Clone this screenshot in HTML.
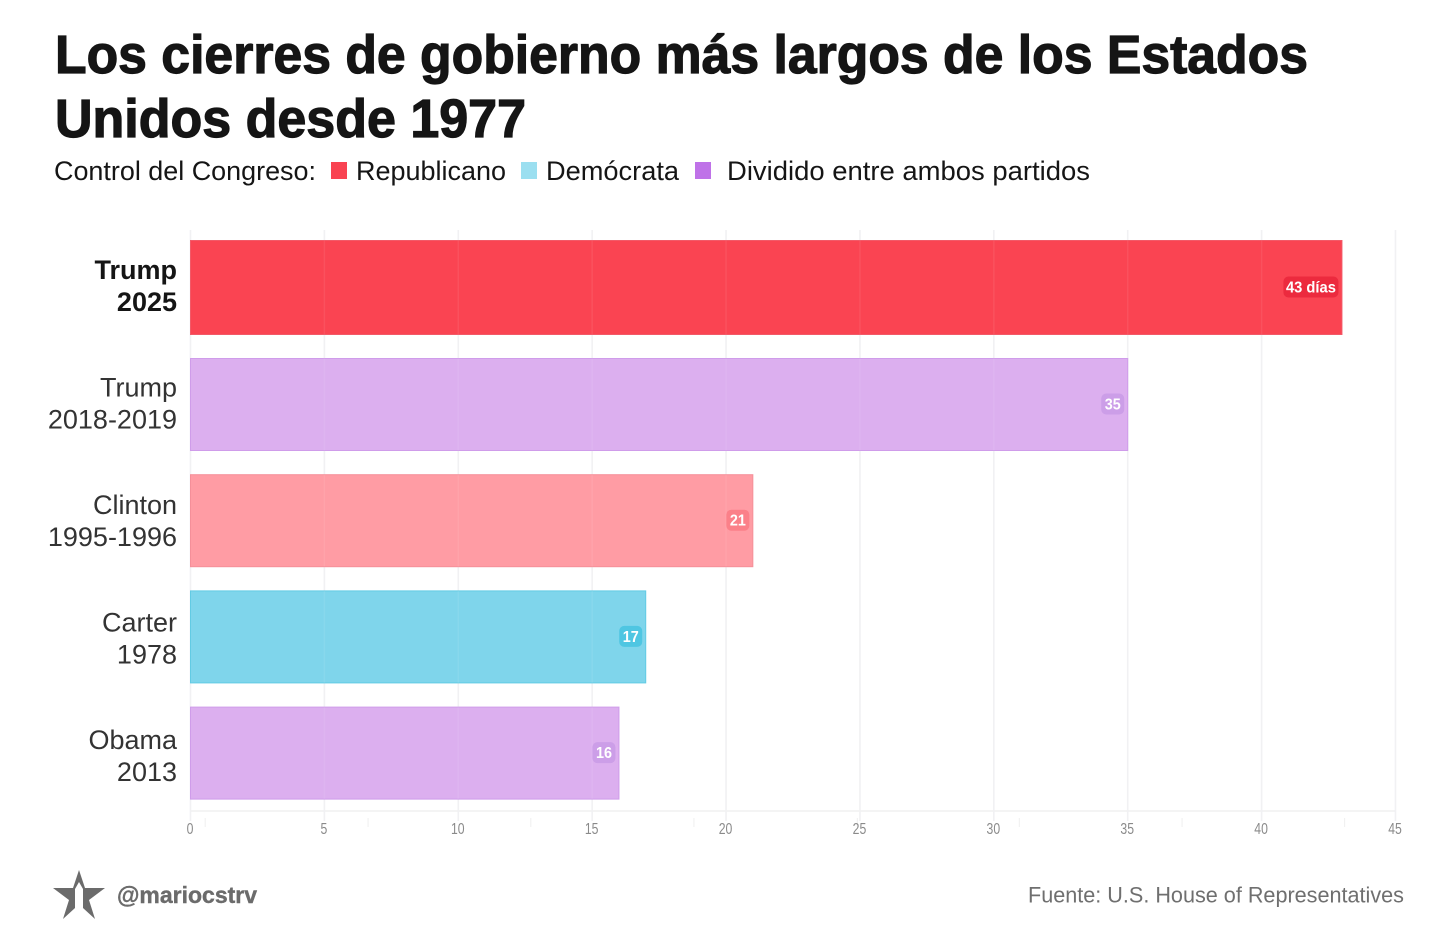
<!DOCTYPE html>
<html lang="es">
<head>
<meta charset="utf-8">
<title>Los cierres de gobierno más largos</title>
<style>
html,body{margin:0;padding:0;background:#fff;width:1456px;height:948px;overflow:hidden}
svg{display:block;font-family:"Liberation Sans",sans-serif}
</style>
</head>
<body>
<svg id="chart" width="1456" height="948" viewBox="0 0 1456 948">
  <rect width="1456" height="948" fill="#fff"/>
  <g font-weight="700" font-size="54" fill="#151515" stroke="#151515" stroke-width="1.2">
    <text x="55" y="73" textLength="1253" lengthAdjust="spacingAndGlyphs">Los cierres de gobierno más largos de los Estados</text>
    <text x="55" y="137" textLength="471" lengthAdjust="spacingAndGlyphs">Unidos desde 1977</text>
  </g>
  <g font-size="27" fill="#151515">
    <text x="54" y="180" textLength="262" lengthAdjust="spacingAndGlyphs">Control del Congreso:</text>
    <rect x="331" y="162" width="16" height="17" fill="#f94352"/>
    <text x="356" y="180" textLength="150" lengthAdjust="spacingAndGlyphs">Republicano</text>
    <rect x="521" y="162" width="16" height="17" fill="#9bdff0"/>
    <text x="546" y="180" textLength="133" lengthAdjust="spacingAndGlyphs">Demócrata</text>
    <rect x="695" y="162" width="16" height="17" fill="#bf72e8"/>
    <text x="727" y="180" textLength="363" lengthAdjust="spacingAndGlyphs">Dividido entre ambos partidos</text>
  </g>
  <g id="minor-ticks"></g>
  <g id="grid-under"></g>
  <g id="bars"></g>
  <g id="grid-over"></g>
  <g id="values"></g>
  <g id="cats"></g>
  <g id="xticks"></g>
  <g>
    <path d="M79 870 L85 888 L105 888 L89 900 L95 919 L83 908 L83 889 L79 882 L75 889 L75 908 L63 919 L69 900 L53 888 L73 888 Z" fill="#6b6b6b"/>
    <text x="117" y="903" font-size="23" font-weight="700" fill="#6b6b6b" stroke="#6b6b6b" stroke-width=".4" textLength="140" lengthAdjust="spacingAndGlyphs">@mariocstrv</text>
    <text x="1404" y="902.5" font-size="22" fill="#6f6f6f" text-anchor="end" textLength="376" lengthAdjust="spacingAndGlyphs">Fuente: U.S. House of Representatives</text>
  </g>
</svg>
<script>
const periods = ['2025', '2018-2019', '1995-1996', '1978', '2013'];
const presidents = ['Trump', 'Trump', 'Clinton', 'Carter', 'Obama'];
const days = [43, 35, 21, 17, 16];
const congress = ['rep', 'div', 'repLight', 'dem', 'div'];
const valueSuffix = [' días', '', '', '', ''];
const xTicks = [0, 5, 10, 15, 20, 25, 30, 35, 40, 45];
const minorTicks = [0.55, 6.63, 12.71, 18.8, 24.9, 30.95, 37.03, 43.1];

const NS = 'http://www.w3.org/2000/svg';
const fills = {rep:'#fa4452', repLight:'#ff9ca4', dem:'#7fd5eb', div:'#dcafef'};
const edges = {rep:'#f25a68', repLight:'#f58f99', dem:'#62cbe4', div:'#cf9cea'};
const halos = {rep:'#ec2a3e', repLight:'#fb8089', dem:'#4fc6e2', div:'#cc9ee8'};
const X0 = 190.5, UNIT = 1205 / 45;
const x = v => X0 + v * UNIT;
const ROW_TOP = 242, ROW_STEP = 116.2, BAR_H = 92;
const y = i => i === 0 ? 240.5 : ROW_TOP + i * ROW_STEP + 0.3;
const h = i => i === 0 ? 94 : BAR_H;
const labelCentre = i => 270 + i * 117.5;
function mk(tag, attrs, parent, txt){
  const e = document.createElementNS(NS, tag);
  for (const k in attrs) e.setAttribute(k, attrs[k]);
  if (txt !== undefined) e.textContent = txt;
  parent.appendChild(e);
  return e;
}
const $ = id => document.getElementById(id);

minorTicks.forEach(t => {
  const el = mk('line', {x1:x(t), x2:x(t), y1:818, y2:827, stroke:'#efefef', 'stroke-width':1}, $('minor-ticks'));
  
  
});
const baseline = mk('line', {x1:190, x2:1396, y1:811, y2:811, stroke:'#f0f0f0', 'stroke-width':1.5}, $('grid-under'));



xTicks.forEach(t => {
  const g = mk('line', {x1:x(t), x2:x(t), y1:230, y2:821, stroke:'#f1f1f3', 'stroke-width':1.6}, $('grid-under'));
  
  
  const str = String(t);
  const lab = mk('text', {x:x(t) - 0.5, y:834, 'font-size':15.5, fill:'#8a8a8a', 'text-anchor':'middle', textLength:str.length * 6.8, lengthAdjust:'spacingAndGlyphs'}, $('xticks'), str);
  
  
});

days.forEach((d, i) => {
  const c = congress[i];
  const bar = mk('rect', {x:X0, y:y(i), width:x(d) - X0, height:h(i), fill:fills[c], stroke:edges[c], 'stroke-width':1}, $('bars'));
  
  

  xTicks.forEach(t => {
    if (t > 0 && t < d) {
      const o = mk('line', {x1:x(t), x2:x(t), y1:y(i), y2:y(i) + h(i), stroke:'#ffffff', 'stroke-opacity':.07, 'stroke-width':1.5}, $('grid-over'));
      
      
    }
  });

  const label = d + valueSuffix[i];
  const w = valueSuffix[i] ? 55 : 23;
  const cy = y(i) + h(i) / 2 - 0.5;
  const hx = x(d) - 3.5 - w;
  const halo = mk('rect', {x:hx, y:cy - 10.5, width:w, height:21, rx:5, fill:halos[c]}, $('values'));
  
  
  const vt = mk('text', {x:hx + w / 2, y:cy + 5.5, 'font-size':16, 'font-weight':700, fill:'#fff', 'text-anchor':'middle', textLength:valueSuffix[i] ? 50 : 16, lengthAdjust:'spacingAndGlyphs'}, $('values'), label);
  
  

  const bold = i === 0;
  const weight = bold ? 700 : 400;
  const colour = bold ? '#151515' : '#333333';
  const lc = labelCentre(i);
  const t1 = mk('text', {x:177, y:lc + 9, 'font-size':27, 'font-weight':weight, fill:colour, 'text-anchor':'end'}, $('cats'), presidents[i]);
  
  
  const t2 = mk('text', {x:177, y:lc + 41, 'font-size':27, 'font-weight':weight, fill:colour, 'text-anchor':'end'}, $('cats'), periods[i]);
  
  
});
</script>
</body>
</html>
